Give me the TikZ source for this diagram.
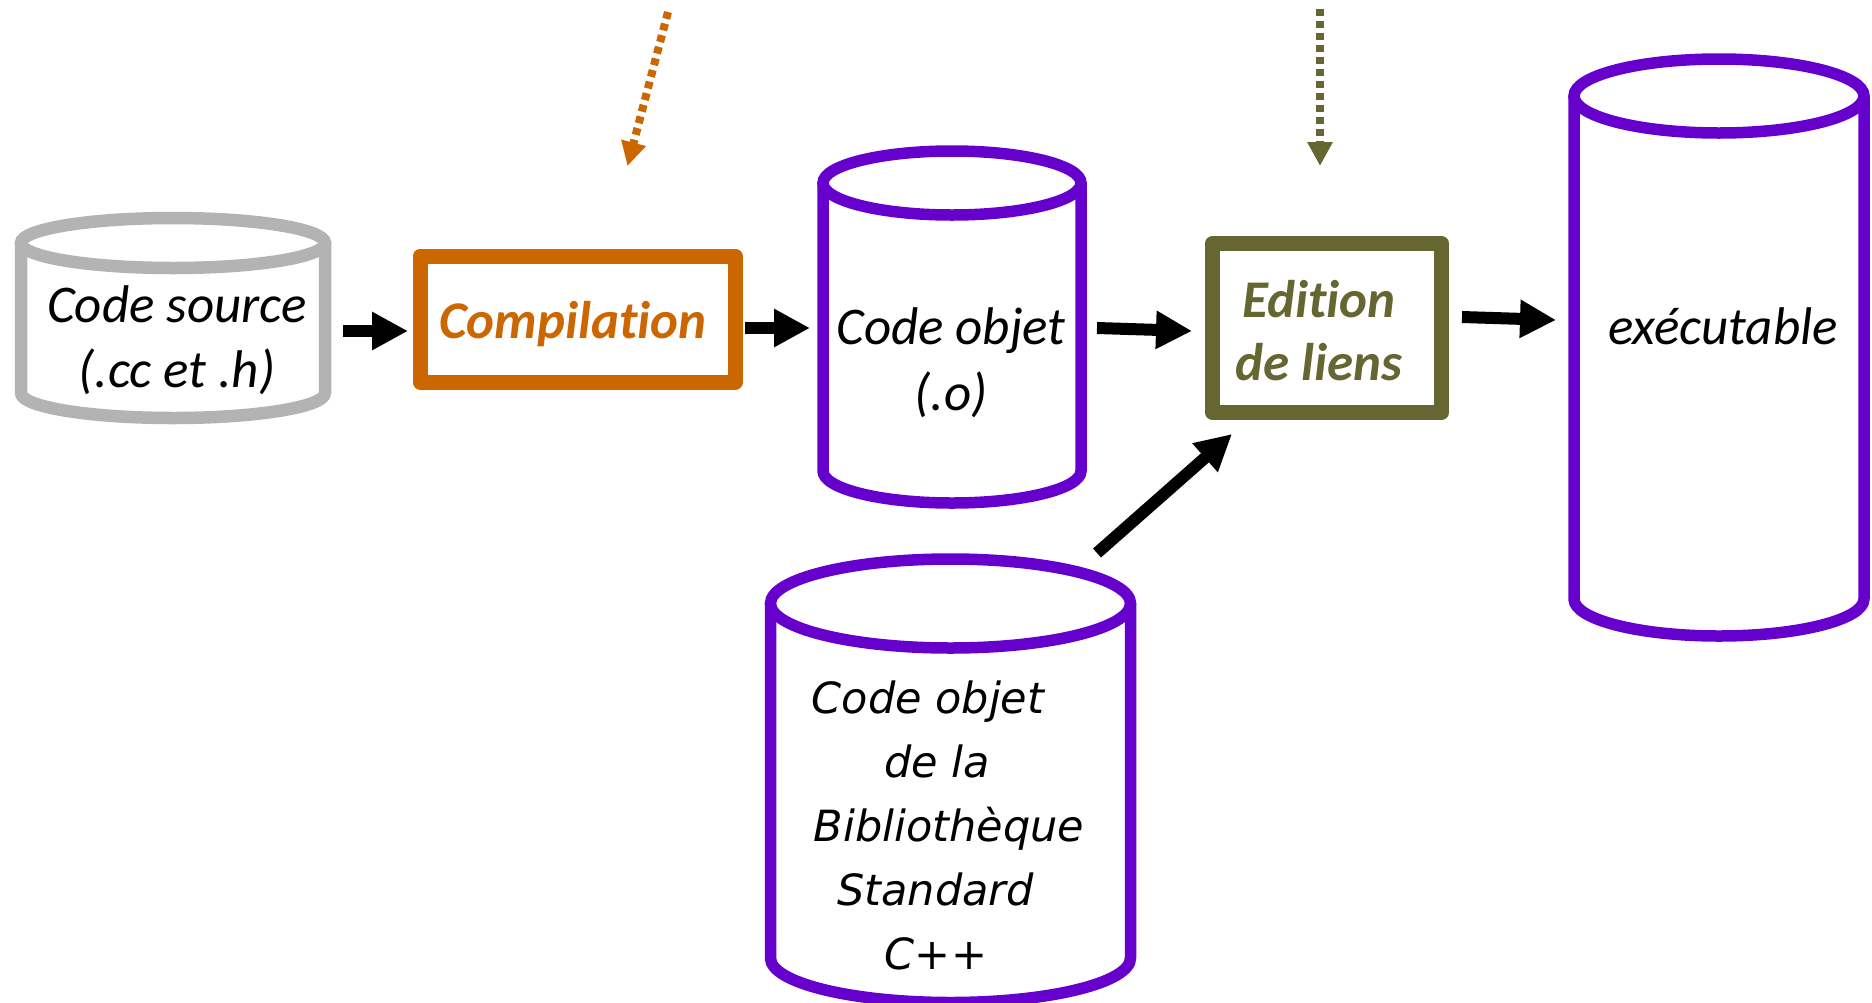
\documentclass[tikz,border=0pt]{standalone}
\usepackage{fontspec}
\setmainfont{Carlito}[Ligatures=NoCommon]
\newfontfamily\dejavu{DejaVu Sans}
\usetikzlibrary{arrows.meta}
\definecolor{cgray}{HTML}{B3B3B3}
\definecolor{corange}{HTML}{CC6600}
\definecolor{colive}{HTML}{666633}
\definecolor{cpurple}{HTML}{6600CC}
\newcommand\drawcyl[7]{%
  \draw[#1, line width=#2pt, line join=round] (#3-#6, #4) -- (#3-#6, #5)
     arc[start angle=180, end angle=360, x radius=#6pt, y radius=#7pt] -- (#3+#6, #4);
  \draw[#1, line width=#2pt, fill=white] (#3,#4) ellipse [x radius=#6pt, y radius=#7pt];
}
\tikzset{
  blockarrow/.style={line width=12pt, -{Triangle[length=36pt,width=36pt]}},
  dotarrow/.style={line width=8pt, dash pattern=on 7pt off 5pt, -{Triangle[length=24pt,width=24pt]}},
  procbox/.style={line width=15pt, line join=round, fill=white, inner sep=0pt},
  lbl/.style={anchor=base, inner sep=0pt, font=\fontsize{53}{65}\selectfont\itshape},
  boldlbl/.style={anchor=base, inner sep=0pt, font=\fontsize{53}{63}\selectfont\bfseries\itshape},
  liblbl/.style={anchor=base, inner sep=0pt, font=\dejavu\fontsize{43}{64}\selectfont\itshape},
}
\begin{document}
\begin{tikzpicture}[x=1pt,y=-1pt]
\useasboundingbox (0,0) rectangle (1872,1002);
% cylinders
\drawcyl{cgray}{12.5}{173}{243}{393}{152}{25}
\drawcyl{cpurple}{11.5}{952}{183}{471}{129}{32}
\drawcyl{cpurple}{11.5}{1719}{96}{599}{145}{37}
\drawcyl{cpurple}{11.5}{950.5}{603.5}{958}{180}{44.5}
% boxes
\node[procbox, draw=corange, minimum width=315pt, minimum height=126pt] (comp) at (577.5,319) {};
\node[procbox, draw=colive, minimum width=229.5pt, minimum height=168.5pt] (edit) at (1327,328) {};
% labels
\node[lbl] (src) at (177,322) {\begin{tabular}[t]{@{}c@{}}Code source\\(.cc et .h)\end{tabular}};
\node[boldlbl, text=corange] (comptext) at (573,338) {Compilation};
\node[lbl, font=\fontsize{53}{66}\selectfont\itshape] (obj) at (951,344) {\begin{tabular}[t]{@{}c@{}}Code objet\\(.o)\end{tabular}};
\node[boldlbl, text=colive] (edittext) at (1319,317) {\begin{tabular}[t]{@{}c@{}}Edition\\de liens\end{tabular}};
\node[lbl] (exe) at (1723,344) {exécutable};
\node[liblbl] (lib) at (940,713) {\begin{tabular}[t]{@{}c@{}}Code objet\hspace*{24pt}\\de la\hspace*{6pt}\\\hspace*{18pt}Bibliothèque\\Standard\hspace*{9pt}\\C++\hspace*{8pt}\end{tabular}};
% arrow end points
\coordinate (a1s) at (343,331); \coordinate (a1e) at (408,331);
\coordinate (a2s) at (745,328); \coordinate (a2e) at (810,328);
\coordinate (a3s) at (1097,328); \coordinate (a3e) at (1192,331);
\coordinate (a4s) at (1462,317); \coordinate (a4e) at (1556,320);
\coordinate (a5s) at (1097,553); \coordinate (a5e) at (1232,434);
\coordinate (d1s) at (668,12); \coordinate (d1e) at (627.5,166);
\coordinate (d2s) at (1320,9); \coordinate (d2e) at (1320,166);
\draw[blockarrow] (a1s) -- (a1e);
\draw[blockarrow] (a2s) -- (a2e);
\draw[blockarrow] (a3s) -- (a3e);
\draw[blockarrow] (a4s) -- (a4e);
\draw[blockarrow] (a5s) -- (a5e);
\draw[dotarrow, corange] (d1s) -- (d1e);
\draw[dotarrow, colive] (d2s) -- (d2e);
\end{tikzpicture}
\end{document}
